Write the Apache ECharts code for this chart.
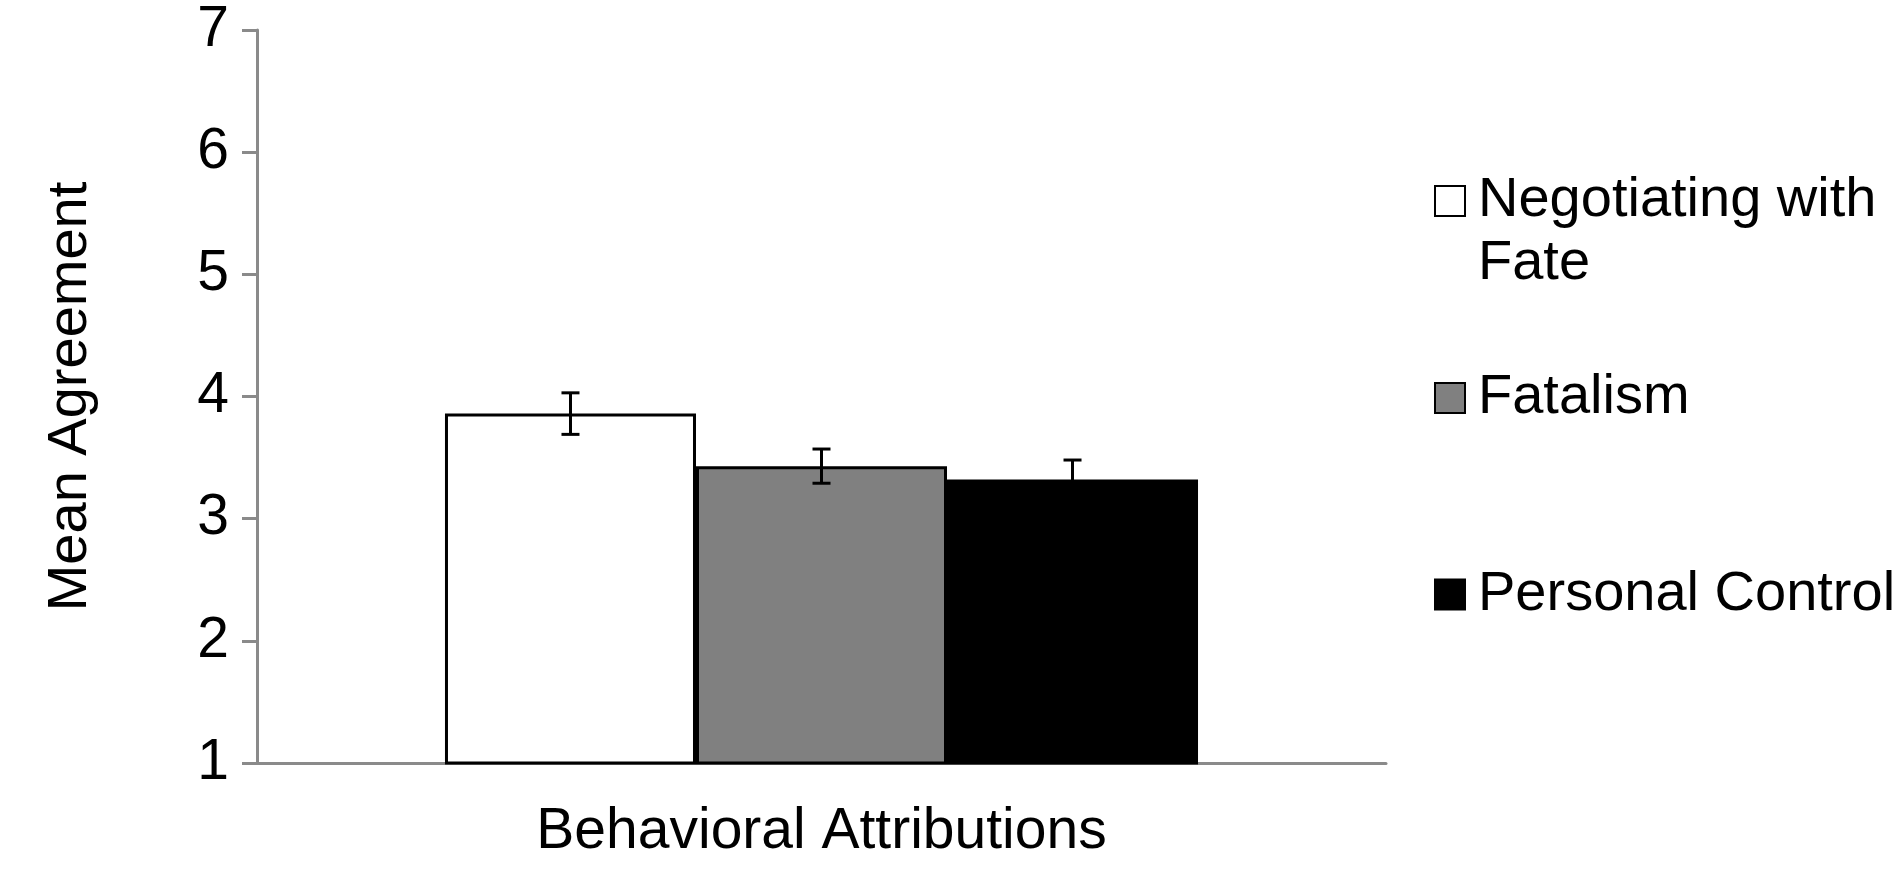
<!DOCTYPE html>
<html>
<head>
<meta charset="utf-8">
<script src="https://cdn.jsdelivr.net/npm/echarts@6/dist/echarts.min.js"></script>
<style>
  html, body { margin: 0; padding: 0; background: #fff; }
  #chart { width: 1901px; height: 869px; }
</style>
</head>
<body>
<div id="chart"></div>
<script>
// values
const categories = ['Behavioral Attributions'];
const seriesNames = ['Negotiating with Fate', 'Fatalism', 'Personal Control'];
const means = [3.86, 3.43, 3.32];
const errors = [0.17, 0.14, 0.16];
const barColors = ['#ffffff', '#808080', '#000000'];
const yTicks = [1, 2, 3, 4, 5, 6, 7];

const FONT = '"Liberation Sans", Arial, sans-serif';
const AXIS_GREY = '#8a8a8a';
const CAT_GAP = 0.333;
const legendTops = [106.5, 366.5, 563];

const chart = echarts.init(document.getElementById('chart'), null, { renderer: 'canvas' });

const barSeries = seriesNames.map((name, i) => ({
  name,
  type: 'bar',
  data: [means[i]],
  barGap: '0%',
  barCategoryGap: (CAT_GAP * 100) + '%',
  itemStyle: { color: barColors[i], borderColor: '#000', borderWidth: 3 },
  emphasis: { disabled: true },
  z: 2
}));

const errData = seriesNames.map((_, i) => [0, i, means[i], errors[i]]);

const errSeries = {
  type: 'custom',
  name: 'error',
  data: errData,
  encode: { x: 0, y: 2 },
  z: 5,
  silent: true,
  renderItem(params, api) {
    const cat = api.value(0);
    const idx = api.value(1);
    const mean = api.value(2);
    const err = api.value(3);
    const n = seriesNames.length;
    const center = api.coord([cat, mean]);
    const bandW = api.size([1, 0])[0];
    const barW = bandW * (1 - CAT_GAP) / n;
    const x = center[0] + (idx - (n - 1) / 2) * barW;
    const top = api.coord([cat, mean + err])[1];
    const bot = api.coord([cat, mean - err])[1];
    const cap = 9;
    const style = { stroke: '#000', lineWidth: 3 };
    return {
      type: 'group',
      children: [
        { type: 'line', shape: { x1: x, y1: top, x2: x, y2: bot }, style },
        { type: 'line', shape: { x1: x - cap, y1: top, x2: x + cap, y2: top }, style },
        { type: 'line', shape: { x1: x - cap, y1: bot, x2: x + cap, y2: bot }, style }
      ]
    };
  }
};

// first entry wraps onto two lines; a blank leading line keeps the
// marker level with the first line of text
const legends = seriesNames.map((name, i) => ({
  data: [name],
  orient: 'vertical',
  left: 1434,
  top: legendTops[i],
  padding: 0,
  icon: 'rect',
  itemWidth: 30,
  itemHeight: 30,
  selectedMode: false,
  itemStyle: { borderColor: '#000', borderWidth: 2 },
  formatter: n => (n.indexOf(' with ') > -1 ? '\n' + n.replace(' with ', ' with\n') : n),
  textStyle: {
    fontFamily: FONT,
    fontSize: 56,
    color: '#000',
    lineHeight: 63,
    padding: [0, 0, 0, 8]
  }
}));

chart.setOption({
  animation: false,
  backgroundColor: '#fff',
  textStyle: { fontFamily: FONT },
  grid: { left: 257, right: 515, top: 30, bottom: 106 },
  legend: legends,
  xAxis: {
    type: 'category',
    data: categories,
    axisLine: { lineStyle: { color: AXIS_GREY, width: 3 } },
    axisTick: { show: false },
    axisLabel: { fontFamily: FONT, fontSize: 57, color: '#000', margin: 41 }
  },
  yAxis: {
    type: 'value',
    min: yTicks[0],
    max: yTicks[yTicks.length - 1],
    interval: 1,
    name: 'Mean Agreement',
    nameLocation: 'middle',
    nameRotate: 90,
    nameGap: 158,
    nameTextStyle: { fontFamily: FONT, fontSize: 56, color: '#000' },
    axisLine: { show: true, lineStyle: { color: AXIS_GREY, width: 3 } },
    axisTick: { show: true, length: 15, lineStyle: { color: AXIS_GREY, width: 3 } },
    splitLine: { show: false },
    axisLabel: { fontFamily: FONT, fontSize: 57, color: '#000', margin: 28 }
  },
  series: [...barSeries, errSeries]
});
</script>
</body>
</html>
